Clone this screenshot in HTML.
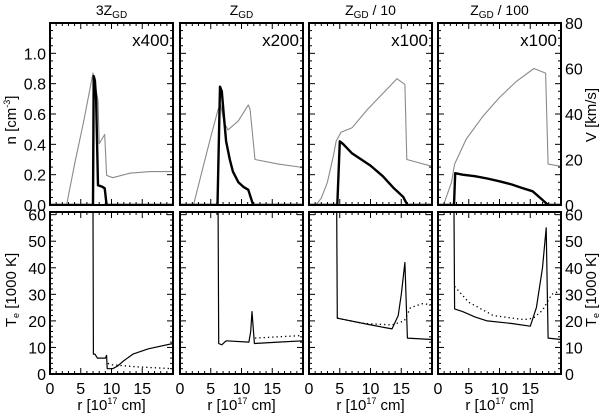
<!DOCTYPE html>
<html><head><meta charset="utf-8">
<style>
html,body{margin:0;padding:0;background:#fff;}
svg{display:block;font-family:"Liberation Sans",sans-serif;}
</style></head>
<body>
<svg id="chart" width="600" height="414" viewBox="0 0 600 414" xmlns="http://www.w3.org/2000/svg"></svg>
<script>
// ---- data ----
const panelTitles = ["3Z", "Z", "Z", "Z"];
const panelSuffix = ["", "", " / 10", " / 100"];
const multipliers = ["x400", "x200", "x100", "x100"];
const xTicks = [0, 5, 10, 15];
const nTicks = [0.0, 0.2, 0.4, 0.6, 0.8, 1.0];
const vTicks = [0, 20, 40, 60, 80];
const teTicks = [0, 10, 20, 30, 40, 50, 60];

// velocity (km/s), gray thin
const vR = [
  [0, 2.7, 4, 5.5, 7.0, 7.8, 8.0, 8.9, 9.2, 10.2, 13, 16.3, 20],
  [0, 2.2, 3.5, 5, 6.2, 6.6, 7.2, 7.8, 9.5, 11.1, 11.4, 12.2, 16, 20],
  [0, 1.1, 2, 3, 4, 4.4, 5.2, 7.0, 9.5, 12.2, 14.3, 15.6, 15.9, 20],
  [0, 0.9, 2.2, 2.7, 4.6, 7.3, 9.9, 12.6, 15.6, 17.5, 17.9, 20]
];
const vV = [
  [0, 0, 18, 37, 58, 46, 27, 31, 13, 12, 14, 14.7, 14.7],
  [0, 0, 14, 30, 42, 44, 36, 33, 37, 44, 42, 20, 18, 16.5],
  [0, 0, 3, 10, 22, 28, 32, 34, 42, 49.6, 55.5, 53, 20, 17],
  [0, 0, 10, 18, 29, 39, 47, 54, 60, 58, 18, 17]
];
// density n (cm^-3), thick
const nR = [
  [0, 7.0, 7.1, 7.3, 7.5, 7.8, 8.5, 8.9, 9.2, 20],
  [0, 6.1, 6.5, 6.8, 7.1, 7.5, 8.1, 8.6, 9.5, 10.3, 11.1, 11.5, 11.9, 20],
  [0, 4.6, 5.0, 5.6, 7.0, 8.5, 10, 12, 13.8, 15.3, 16.0, 20],
  [0, 2.6, 2.8, 4, 6, 8, 10, 12, 13.5, 15.4, 16.8, 17.9, 20]
];
const nV = [
  [0, 0, 0.85, 0.82, 0.7, 0.13, 0.12, 0.11, 0.0, 0],
  [0, 0, 0.78, 0.75, 0.6, 0.42, 0.3, 0.22, 0.15, 0.12, 0.1, 0.05, 0.0, 0],
  [0, 0, 0.42, 0.4, 0.34, 0.3, 0.26, 0.19, 0.11, 0.055, 0.0, 0],
  [0, 0, 0.21, 0.2, 0.19, 0.175, 0.156, 0.135, 0.115, 0.09, 0.04, 0.0, 0]
];
// electron temperature (1000 K), solid
const tR = [
  [7.0, 7.05, 7.3, 7.7, 9.0, 9.2, 9.3, 10.2, 11, 12, 13.5, 16, 20],
  [6.2, 6.3, 6.8, 7.5, 11.2, 11.5, 11.7, 12.1, 16, 20],
  [4.5, 4.6, 10, 13.5, 14.5, 15, 15.6, 16.0, 20],
  [2.6, 2.7, 4, 6, 8, 12, 15, 16, 17, 17.6, 17.9, 20]
];
const tV = [
  [61, 7.5, 7.5, 6, 6, 7, 2, 2, 3, 5, 7.5, 9.5, 11.5],
  [61, 11.5, 11, 12.5, 12, 16, 23.5, 11.5, 12, 12.5],
  [61, 21, 18.5, 17, 22, 30, 42, 13.5, 13],
  [61, 24.5, 23.5, 21.5, 20, 19, 18, 25, 40, 55, 13.5, 13]
];
// electron temperature, dotted
const dR = [
  [9.4, 10, 14, 20],
  [12.2, 16, 20],
  [4.6, 9, 13.5, 15.5, 16.5, 18.5, 20],
  [2.7, 5, 9, 14, 15.5, 17, 18.5, 20]
];
const dV = [
  [4, 3.5, 2.7, 2],
  [13.5, 14, 14.5],
  [21, 19, 18.5, 20, 25, 26.5, 26],
  [33, 27, 22, 20.5, 21, 24, 30, 31.5]
];

// ---- layout ----
const NS = "http://www.w3.org/2000/svg";
const svg = document.getElementById("chart");
const panelLeft = [50, 180, 309, 438];
const panelW = 123;
const topY0 = 23, topY1 = 205;
const botY0 = 212, botY1 = 374;
function xs(p, r){ return panelLeft[p] + r / 20 * panelW; }
function yN(n){ return topY1 - n / 1.2 * (topY1 - topY0); }
function yV(v){ return topY1 - v / 80 * (topY1 - topY0); }
function yT(t){ return botY1 - t / 61 * (botY1 - botY0); }
function mk(tag, attrs, parent){
  const e = document.createElementNS(NS, tag);
  for (const k in attrs) e.setAttribute(k, attrs[k]);
  (parent || svg).appendChild(e);
  return e;
}
function txt(s, x, y, size, anchor, parent){
  const t = mk("text", {x:x, y:y, "font-size":size, "text-anchor":anchor||"middle", fill:"#000"}, parent);
  t.textContent = s;
  return t;
}
function poly(p, R, V, yf, style, name){
  let d = "";
  for (let i = 0; i < R.length; i++){
    let y = Math.max(yf(V[i]), -1000);
    d += (i ? "L" : "M") + xs(p, R[i]).toFixed(1) + "," + y.toFixed(1);
  }
  const e = mk("path", Object.assign({d:d, fill:"none", "stroke-linejoin":"round"}, style));
  
  
  return e;
}

for (let p = 0; p < 4; p++){
  const L = panelLeft[p], R = L + panelW;
  const cp = mk("clipPath", {id:"ct" + p});
  mk("rect", {x:L, y:topY0, width:panelW, height:topY1 - topY0}, cp);
  const cb = mk("clipPath", {id:"cb" + p});
  mk("rect", {x:L, y:botY0, width:panelW, height:botY1 - botY0}, cb);

  const tt = mk("text", {x:L + panelW / 2, y:15, "font-size":14, "text-anchor":"middle"});
  
  
  tt.appendChild(document.createTextNode(panelTitles[p]));
  const sub = mk("tspan", {"font-size":10, dy:3}, tt); sub.textContent = "GD";
  if (panelSuffix[p]){ const s2 = mk("tspan", {dy:-3}, tt); s2.textContent = panelSuffix[p]; }
  const m = txt(multipliers[p], R - 4, 46, 17, "end");
  
  

  const gt = mk("g", {"clip-path":"url(#ct" + p + ")"});
  gt.appendChild(poly(p, vR[p], vV[p], yV, {stroke:"#8a8a8a", "stroke-width":1.1}, "velocity-line-" + (p + 1)));
  gt.appendChild(poly(p, nR[p], nV[p], yN, {stroke:"#000", "stroke-width":2.4}, "density-line-" + (p + 1)));
  const gb = mk("g", {"clip-path":"url(#cb" + p + ")"});
  gb.appendChild(poly(p, dR[p], dV[p], yT, {stroke:"#000", "stroke-width":1.3, "stroke-dasharray":"1.3,3"}, "temperature-dotted-" + (p + 1)));
  gb.appendChild(poly(p, tR[p], tV[p], yT, {stroke:"#000", "stroke-width":1.2}, "temperature-line-" + (p + 1)));

  [[topY0, topY1], [botY0, botY1]].forEach(function(yy, row){
    const fr = mk("rect", {x:L, y:yy[0], width:panelW, height:yy[1] - yy[0], fill:"none", stroke:"#000", "stroke-width":2});
    
    
    for (let r = 1; r < 20; r++){
      const len = (r % 5 === 0) ? 6 : 3;
      const x = xs(p, r);
      mk("line", {x1:x, x2:x, y1:yy[1], y2:yy[1] - len, stroke:"#000", "stroke-width":1});
      mk("line", {x1:x, x2:x, y1:yy[0], y2:yy[0] + len, stroke:"#000", "stroke-width":1});
    }
    const nMinor = row ? 30 : 24;
    const majorEvery = row ? 5 : 4;
    for (let k = 1; k < nMinor + 2; k++){
      const y = row ? yT(k * 2) : yN(k * 0.05);
      if (y <= yy[0] + 1) break;
      const len = (k % majorEvery === 0) ? 6 : 3;
      mk("line", {x1:L, x2:L + len, y1:y, y2:y, stroke:"#000", "stroke-width":1});
      mk("line", {x1:R, x2:R - len, y1:y, y2:y, stroke:"#000", "stroke-width":1});
    }
  });

  xTicks.forEach(function(v){
    const t = txt(String(v), xs(p, v), 394, 16);
    
    
  });
  const xl = mk("text", {x:L + panelW / 2, y:410, "font-size":15, "text-anchor":"middle"});
  
  
  xl.appendChild(document.createTextNode("r [10"));
  const sp = mk("tspan", {"font-size":9, dy:-6}, xl); sp.textContent = "17";
  const sp2 = mk("tspan", {dy:6}, xl); sp2.textContent = " cm]";
}

nTicks.forEach(function(v){
  const t = txt(v.toFixed(1), 46, yN(v) + 6, 16, "end");
  
  
});
teTicks.forEach(function(v){
  const t = txt(String(v), 46, yT(v) + 6, 16, "end");
  
  
});
vTicks.forEach(function(v){
  const t = txt(String(v), 565, yV(v) + 6, 16, "start");
  
  
});
teTicks.forEach(function(v){
  const t = txt(String(v), 565, yT(v) + 6, 16, "start");
  
  
});

function rotTitle(x, y, parts, name){
  const t = mk("text", {x:0, y:0, "font-size":15, "text-anchor":"middle", transform:"translate(" + x + "," + y + ") rotate(-90)"});
  
  
  parts.forEach(function(pp){
    const s = mk("tspan", pp[1] ? {"font-size":9, dy:pp[1]} : {}, t);
    if (pp[2]) s.setAttribute("dy", pp[2]);
    s.textContent = pp[0];
  });
}
rotTitle(16, 120, [["n [cm"], ["-3", -6], ["]", null, 6]], "n-axis-title");
rotTitle(16, 290, [["T"], ["e", 3], [" [1000 K]", null, -3]], "te-axis-title");
rotTitle(596, 115, [["V [km/s]"]], "v-axis-title");
rotTitle(596, 290, [["T"], ["e", 3], [" [1000 K]", null, -3]], "te-right-axis-title");
</script>
</body></html>
